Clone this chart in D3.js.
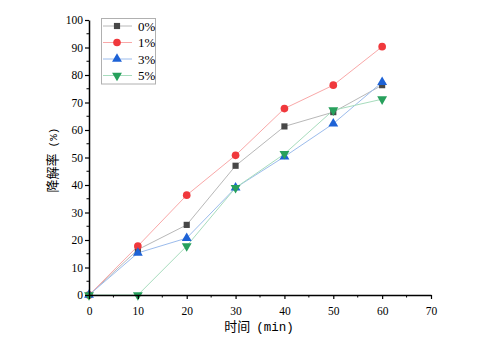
<!DOCTYPE html>
<html>
<head>
<meta charset="utf-8">
<script src="https://cdn.jsdelivr.net/npm/d3@7"></script>
<style>
  body { margin: 0; background: #fff; }
  svg { display: block; }
</style>
</head>
<body>
<svg></svg>
<script>
const times = [0, 10, 20, 30, 40, 50, 60];
const s0 = [0, 16.5, 25.5, 47, 61.3, 66.5, 76.3];
const s1 = [0, 17.8, 36.3, 50.8, 67.8, 76.3, 90.3];
const s3 = [0, 15.3, 20.7, 39, 50.3, 62.3, 77.4];
const s5 = [0, 0, 17.8, 39, 51.3, 67.2, 71.2];
const names = ["0%", "1%", "3%", "5%"];
const xTicks = [0, 10, 20, 30, 40, 50, 60, 70];
const yTicks = [0, 10, 20, 30, 40, 50, 60, 70, 80, 90, 100];

const width = 500, height = 338;
const svg = d3.select("svg").attr("width", width).attr("height", height);

const x = d3.scaleLinear().domain([0, 70]).range([89, 431]);
const y = d3.scaleLinear().domain([0, 100]).range([295, 20]);

const serif = "'Liberation Serif', 'DejaVu Serif', serif";
const cjk = "'Noto Sans CJK SC', sans-serif";
const mono = "'Liberation Mono', 'DejaVu Sans Mono', monospace";

const series = [
  { name: names[0], vals: s0, marker: d3.symbolSquare, fill: "#474747", line: "#b8b8b8", size: 38 },
  { name: names[1], vals: s1, marker: d3.symbolCircle, fill: "#f0383c", line: "#f9a8a8", size: 46 },
  { name: names[2], vals: s3, marker: d3.symbolTriangle, fill: "#1d62d6", line: "#9cbcec", size: 42 },
  { name: names[3], vals: s5, marker: d3.symbolTriangle, fill: "#27a05c", line: "#a7dcbd", size: 42, flip: true }
];

const line = d3.line().x((d, i) => x(times[i])).y(d => y(d));

// lines first, markers on top
series.forEach(s => {
  svg.append("path")
    .attr("d", line(s.vals))
    .attr("fill", "none")
    .attr("stroke", s.line)
    .attr("stroke-width", 1);
});

series.forEach(s => {
  const sym = d3.symbol().type(s.marker).size(s.size);
  svg.append("g").selectAll("path")
    .data(s.vals)
    .join("path")
    .attr("d", sym)
    .attr("fill", s.fill)
    .attr("transform", (d, i) => `translate(${x(times[i])},${y(d)})` + (s.flip ? " rotate(180)" : ""));
});

// axes
const xAxis = svg.append("g").attr("transform", `translate(0,${y(0)})`)
  .call(d3.axisBottom(x).tickValues(xTicks).tickSize(4).tickSizeOuter(0));
const yAxis = svg.append("g").attr("transform", `translate(${x(0)},0)`)
  .call(d3.axisLeft(y).tickValues(yTicks).tickSize(4).tickSizeOuter(0));

// minor ticks
svg.append("g").selectAll("line")
  .data(d3.range(5, 70, 10))
  .join("line")
  .attr("x1", d => x(d)).attr("x2", d => x(d))
  .attr("y1", y(0)).attr("y2", y(0) + 2.5)
  .attr("stroke", "#000");
svg.append("g").selectAll("line")
  .data(d3.range(5, 100, 10))
  .join("line")
  .attr("x1", x(0)).attr("x2", x(0) - 2.5)
  .attr("y1", d => y(d)).attr("y2", d => y(d))
  .attr("stroke", "#000");

[xAxis, yAxis].forEach(a => {
  a.select(".domain").attr("stroke", "#000").attr("stroke-width", 1.5);
  a.selectAll(".tick line").attr("stroke", "#000").attr("stroke-width", 1.2);
  a.selectAll("text").attr("font-family", serif).attr("font-size", 11.5).attr("fill", "#000");
});
xAxis.selectAll("text").attr("dy", "1.1em");
yAxis.selectAll("text").attr("x", -6);

// axis titles
const xt = svg.append("text")
  .attr("x", 259).attr("y", 331)
  .attr("text-anchor", "middle")
  .attr("font-size", 13);
xt.append("tspan").attr("font-family", cjk).text("时间");
xt.append("tspan").attr("font-family", mono).attr("font-size", 12.5).attr("dx", 6).text("(min)");

const yt = svg.append("text")
  .attr("transform", "translate(57,160) rotate(-90)")
  .attr("text-anchor", "middle")
  .attr("font-size", 13);
yt.append("tspan").attr("font-family", cjk).text("降解率");
yt.append("tspan").attr("font-family", mono).attr("font-size", 11).attr("dx", 6).text("(%)");

// legend
const legend = svg.append("g");
legend.append("rect")
  .attr("x", 101.5).attr("y", 18.5).attr("width", 54).attr("height", 65.5)
  .attr("fill", "#fff").attr("stroke", "#b0b0b0").attr("stroke-width", 1);

series.forEach((s, i) => {
  const ly = 26 + i * 16.5;
  legend.append("line")
    .attr("x1", 103).attr("x2", 132).attr("y1", ly).attr("y2", ly)
    .attr("stroke", s.line).attr("stroke-width", 1);
  legend.append("path")
    .attr("d", d3.symbol().type(s.marker).size(s.size)())
    .attr("fill", s.fill)
    .attr("transform", `translate(117,${ly})` + (s.flip ? " rotate(180)" : ""));
  legend.append("text")
    .attr("x", 138).attr("y", ly + 4.5)
    .attr("font-family", serif).attr("font-size", 13)
    .text(s.name);
});
</script>
</body>
</html>
